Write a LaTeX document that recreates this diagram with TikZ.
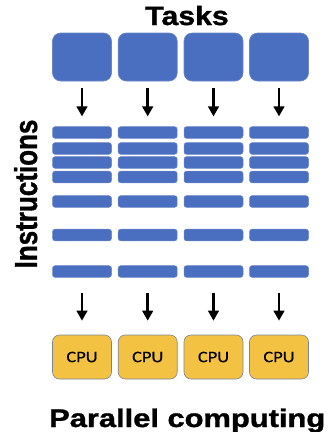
\documentclass[tikz,border=0pt]{standalone}
\usepackage{fontspec}
\setmainfont{Liberation Sans}
\newfontfamily\headfont[FakeBold=1.2]{Liberation Sans Bold}
\newfontfamily\cpufont[FakeBold=0.4]{Carlito}
\usetikzlibrary{arrows.meta}
\definecolor{taskblue}{HTML}{4A6FC0}
\definecolor{taskedge}{HTML}{6C86C4}
\definecolor{cpugold}{HTML}{F4C243}
\definecolor{cpuedge}{HTML}{7A8499}
\begin{document}
\begin{tikzpicture}[x=1pt,y=-1pt,
  taskbox/.style={draw=taskedge, line width=0.6pt, fill=taskblue, rounded corners=8pt,
    minimum width=59pt, minimum height=48pt, inner sep=0pt},
  instrbar/.style={draw=taskedge, line width=0.5pt, fill=taskblue, rounded corners=2.5pt,
    minimum width=59pt, minimum height=11.6pt, inner sep=0pt},
  cpubox/.style={draw=cpuedge, line width=0.6pt, fill=cpugold, rounded corners=7pt,
    minimum width=59pt, minimum height=44pt, inner sep=0pt,
    font=\cpufont\fontsize{16}{17}\selectfont},
  flow/.style={-{Triangle[length=10pt,width=10.5pt]}, line width=2.7pt, black},
  heading/.style={inner sep=0pt, font=\headfont\fontsize{26}{28}\selectfont}
]
\useasboundingbox (0,0) rectangle (328,432);

% headings
\node[heading, anchor=base, font=\headfont\fontsize{26.5}{28}\selectfont] (tasks) at (187,25)
  {\scalebox{1.14}[1]{Tasks}};
\node[heading, rotate=90, anchor=base] (instr) at (37,194)
  {\scalebox{1}[1.22]{Instructions}};
\node[heading, anchor=base west, font=\headfont\fontsize{25.5}{28}\selectfont] (par) at (49,427)
  {\scalebox{1.21}[1]{Parallel computing}};

% one column per task
\foreach \c/\x in {1/82,2/147.7,3/213.5,4/279}{
  \node[taskbox] (t\c) at (\x,57) {};
  \foreach \r/\y in {1/132.5,2/148.5,3/162.5,4/177,5/201.5,6/235,7/271.5}{
    \node[instrbar] (b\c-\r) at (\x,\y) {};
  }
  \node[cpubox] (cpu\c) at (\x,357) {\scalebox{1.15}[1]{CPU}};
  \draw[flow, shorten <=7pt, shorten >=10pt] (t\c) -- (b\c-1);
  \draw[flow, shorten <=15pt, shorten >=14pt] (b\c-7) -- (cpu\c);
}
\end{tikzpicture}
\end{document}
